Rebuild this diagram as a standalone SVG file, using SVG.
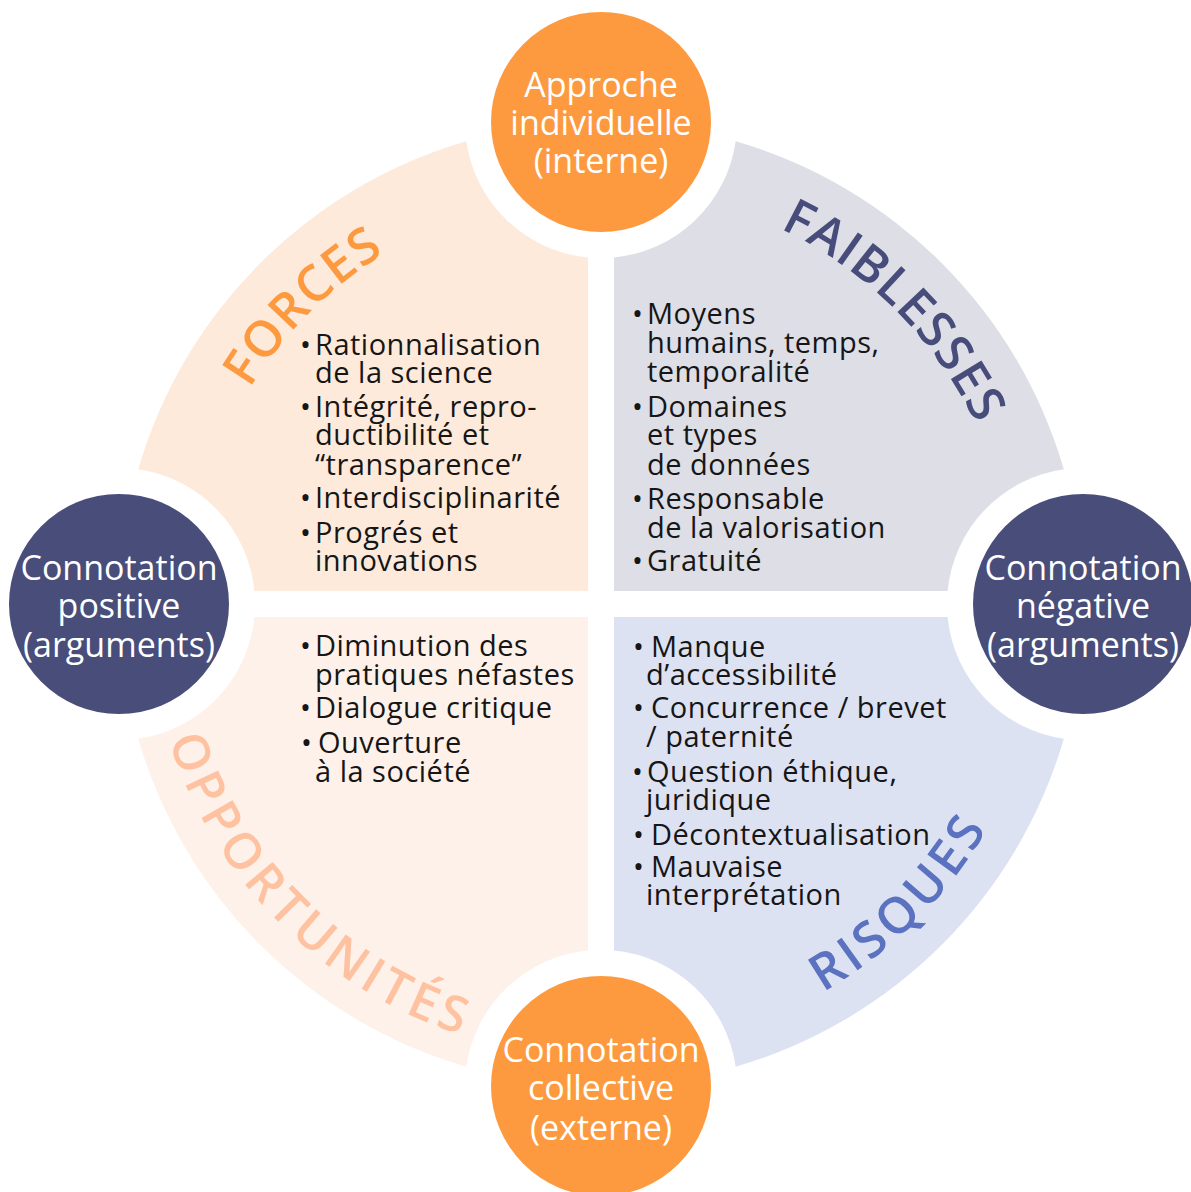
<svg xmlns="http://www.w3.org/2000/svg" width="1191" height="1192" viewBox="0 0 1191 1192">
<defs>
<style>
.t{font-family:"Open Sans","Liberation Sans",sans-serif;font-size:29px;fill:#161616;letter-spacing:0.5px}
.b{font-family:"Open Sans","Liberation Sans",sans-serif;font-size:29px;fill:#161616}
.c{font-family:"Open Sans","Liberation Sans",sans-serif;font-size:34px;fill:#ffffff;text-anchor:middle}
.h{font-family:"Open Sans","Liberation Sans",sans-serif;font-size:50px;font-weight:600;text-anchor:middle}
.or{fill:#FD9A40}
.nv{fill:#494D7A}
</style>
<path id="pF" d="M 189 604 A 412 412 0 0 1 601 192"/>
<path id="pW" d="M 601 188 A 416 416 0 0 1 1017 604"/>
<path id="pO" d="M 148 604 A 453 453 0 0 0 601 1057"/>
<path id="pR" d="M 601 1051 A 447 447 0 0 0 1048 604"/>
</defs>
<rect width="1191" height="1192" fill="#ffffff"/>

<g id="forces">
<path d="M 588 257.4 L 588 591 L 254.4 591 A 136 136 0 0 0 138.2 469.3 A 482 482 0 0 1 466.3 141.2 A 136 136 0 0 0 588 257.4 Z" fill="#FDEADB"/>
<text class="h" fill="#FD9A40" letter-spacing="1.5"><textPath href="#pF" startOffset="50%">FORCES</textPath></text>
<text class="b" x="300" y="355">•</text><text class="t" x="315" y="355">Rationnalisation</text>
<text class="t" x="315" y="383">de la science</text>
<text class="b" x="300" y="417">•</text><text class="t" x="315" y="417">Intégrité, repro-</text>
<text class="t" x="315" y="445">ductibilité et</text>
<text class="t" x="315" y="475">“transparence”</text>
<text class="b" x="300" y="508">•</text><text class="t" x="315" y="508">Interdisciplinarité</text>
<text class="b" x="300" y="543">•</text><text class="t" x="315" y="543">Progrés et</text>
<text class="t" x="315" y="571">innovations</text>
</g>

<g id="faiblesses">
<path d="M 614 257.4 L 614 591 L 947.6 591 A 136 136 0 0 1 1063.8 469.3 A 482 482 0 0 0 735.7 141.2 A 136 136 0 0 1 614 257.4 Z" fill="#DDDEE6"/>
<text class="h" fill="#474C7B" letter-spacing="1"><textPath href="#pW" startOffset="50%">FAIBLESSES</textPath></text>
<text class="b" x="632" y="324">•</text><text class="t" x="647" y="324">Moyens</text>
<text class="t" x="647" y="353">humains, temps,</text>
<text class="t" x="647" y="382">temporalité</text>
<text class="b" x="632" y="417">•</text><text class="t" x="647" y="417">Domaines</text>
<text class="t" x="647" y="445">et types</text>
<text class="t" x="647" y="475">de données</text>
<text class="b" x="632" y="509">•</text><text class="t" x="647" y="509">Responsable</text>
<text class="t" x="647" y="538">de la valorisation</text>
<text class="b" x="632" y="571">•</text><text class="t" x="647" y="571">Gratuité</text>
</g>

<g id="opportunites">
<path d="M 588 950.6 L 588 617 L 254.4 617 A 136 136 0 0 1 138.2 738.7 A 482 482 0 0 0 466.3 1066.8 A 136 136 0 0 1 588 950.6 Z" fill="#FEF1EA"/>
<text class="h" fill="#FEC2A0" letter-spacing="5"><textPath href="#pO" startOffset="50%">OPPORTUNITÉS</textPath></text>
<text class="b" x="300" y="656">•</text><text class="t" x="315" y="656">Diminution des</text>
<text class="t" x="315" y="685">pratiques néfastes</text>
<text class="b" x="300" y="718">•</text><text class="t" x="315" y="718">Dialogue critique</text>
<text class="b" x="301" y="753">•</text><text class="t" x="318" y="753">Ouverture</text>
<text class="t" x="315" y="782">à la société</text>
</g>

<g id="risques">
<path d="M 614 950.6 L 614 617 L 947.6 617 A 136 136 0 0 0 1063.8 738.7 A 482 482 0 0 1 735.7 1066.8 A 136 136 0 0 0 614 950.6 Z" fill="#DDE2F3"/>
<text class="h" fill="#5A72C0" letter-spacing="4.5"><textPath href="#pR" startOffset="50%">RISQUES</textPath></text>
<text class="b" x="633" y="657">•</text><text class="t" x="651" y="657">Manque</text>
<text class="t" x="646" y="685">d’accessibilité</text>
<text class="b" x="633" y="718">•</text><text class="t" x="651" y="718">Concurrence / brevet</text>
<text class="t" x="646" y="747">/ paternité</text>
<text class="b" x="632" y="782">•</text><text class="t" x="647" y="782">Question éthique,</text>
<text class="t" x="646" y="810">juridique</text>
<text class="b" x="633" y="845">•</text><text class="t" x="651" y="845">Décontextualisation</text>
<text class="b" x="633" y="877">•</text><text class="t" x="651" y="877">Mauvaise</text>
<text class="t" x="646" y="905">interprétation</text>
</g>

<g id="approche-individuelle">
<circle class="or" cx="601" cy="122" r="110"/>
<text class="c" x="601" y="97">Approche</text>
<text class="c" x="601" y="135">individuelle</text>
<text class="c" x="601" y="173">(interne)</text>
</g>

<g id="connotation-positive">
<circle class="nv" cx="119" cy="604" r="110"/>
<text class="c" x="119" y="580">Connotation</text>
<text class="c" x="119" y="618">positive</text>
<text class="c" x="119" y="657">(arguments)</text>
</g>

<g id="connotation-negative">
<circle class="nv" cx="1083" cy="604" r="110"/>
<text class="c" x="1083" y="580">Connotation</text>
<text class="c" x="1083" y="618">négative</text>
<text class="c" x="1083" y="657">(arguments)</text>
</g>

<g id="connotation-collective">
<circle class="or" cx="601" cy="1086" r="110"/>
<text class="c" x="601" y="1062">Connotation</text>
<text class="c" x="601" y="1100">collective</text>
<text class="c" x="601" y="1140">(externe)</text>
</g>
</svg>
